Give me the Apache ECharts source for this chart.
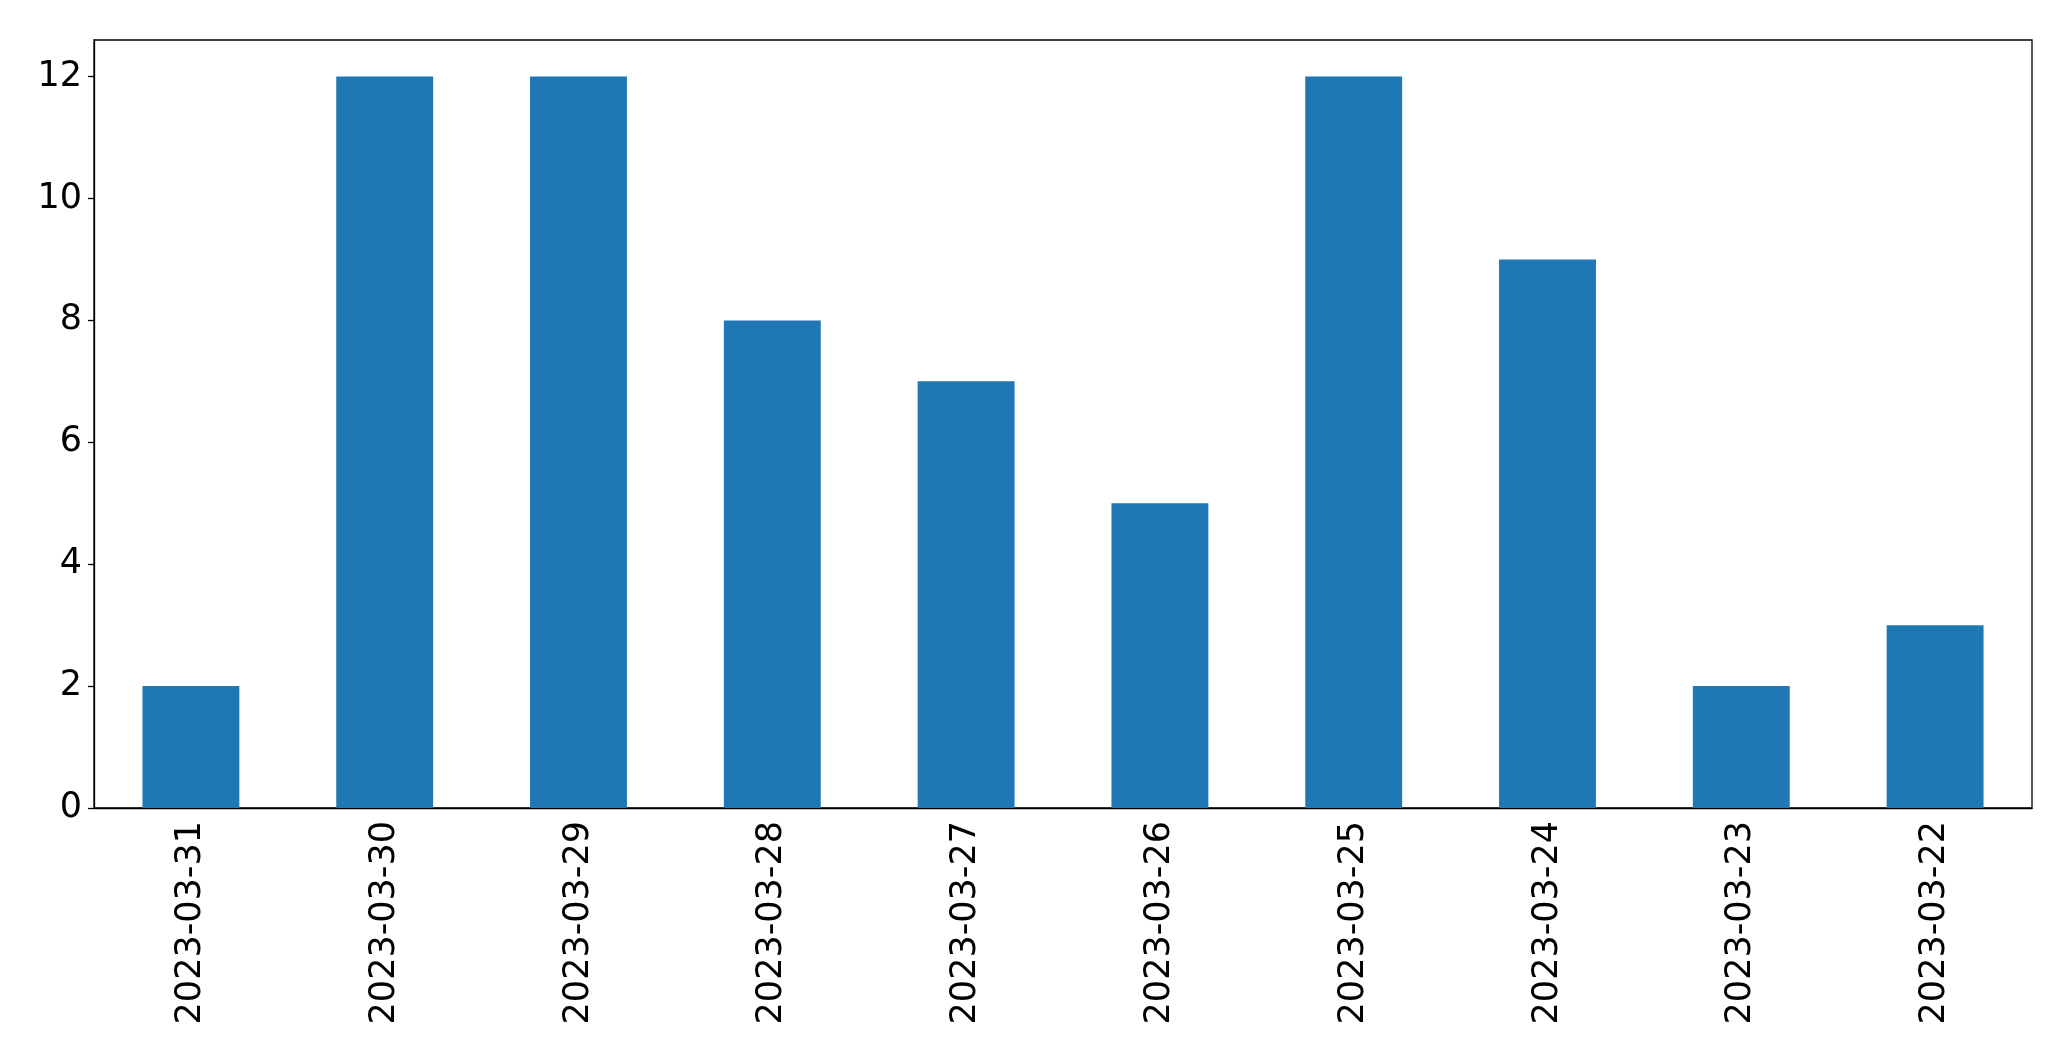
<!DOCTYPE html>
<html>
<head>
<meta charset="utf-8">
<script src="https://cdn.jsdelivr.net/npm/echarts@6/dist/echarts.min.js"></script>
<style>
  html, body { margin: 0; padding: 0; background: #fff; }
  #chart { width: 2071px; height: 1061px; }
</style>
</head>
<body>
<div id="chart"></div>
<script>
const dates = ['2023-03-31', '2023-03-30', '2023-03-29', '2023-03-28', '2023-03-27',
  '2023-03-26', '2023-03-25', '2023-03-24', '2023-03-23', '2023-03-22'];
const counts = [2, 12, 12, 8, 7, 5, 12, 9, 2, 3];
const yTicks = [0, 2, 4, 6, 8, 10, 12];

const myChart = echarts.init(document.getElementById('chart'));
const font = { fontFamily: 'DejaVu Sans', fontSize: 35, color: '#000' };

const option = {
  animation: false,
  grid: {
    show: true,
    borderColor: '#000',
    borderWidth: 1.3,
    left: 94,
    right: 39,
    top: 40,
    bottom: 253,
  },
  xAxis: {
    type: 'category',
    data: dates,
    axisLine: { lineStyle: { color: '#000', width: 1.3 } },
    axisTick: { alignWithLabel: true, length: 6, lineStyle: { color: '#000', width: 1.3 } },
    axisLabel: Object.assign({ rotate: 90, margin: 13, interval: 0 }, font),
    splitLine: { show: false },
  },
  yAxis: {
    type: 'value',
    min: 0,
    max: 12.6,
    interval: 2,
    axisLine: { show: true, lineStyle: { color: '#000', width: 1.3 } },
    axisTick: { show: true, length: 6, customValues: yTicks, lineStyle: { color: '#000', width: 1.3 } },
    axisLabel: Object.assign({ margin: 12, customValues: yTicks }, font),
    splitLine: { show: false },
  },
  series: [
    {
      type: 'bar',
      data: counts,
      barWidth: '50%',
      itemStyle: { color: '#1f77b4' },
    }
  ]
};
myChart.setOption(option);
</script>
</body>
</html>
